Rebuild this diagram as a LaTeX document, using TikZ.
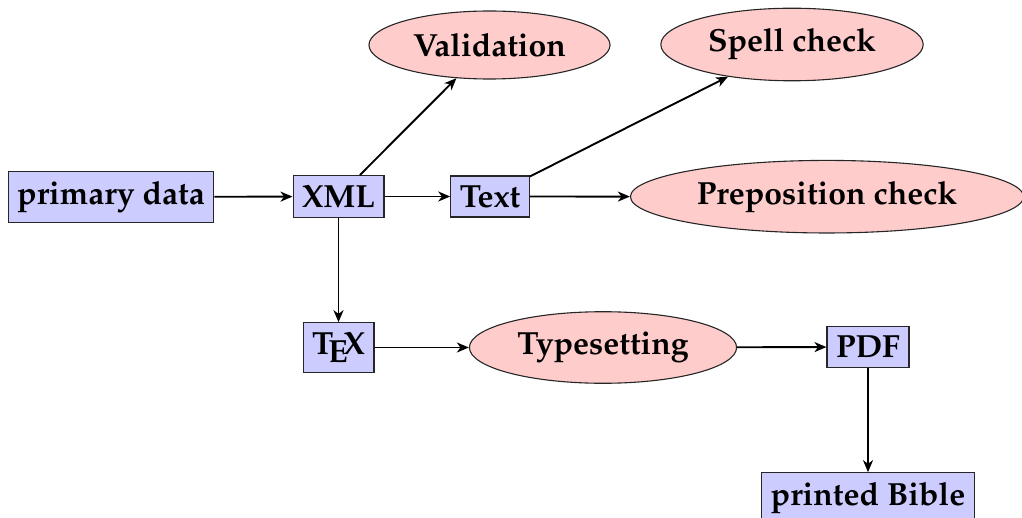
\documentclass[tikz,border=0pt]{standalone}
\usepackage[T1]{fontenc}
\usepackage{mathpazo}
\usetikzlibrary{arrows.meta,shapes.geometric}
\begin{document}
\begin{tikzpicture}[x=0.5pt,y=-0.5pt,
  every node/.style={font=\fontsize{16}{19}\selectfont\bfseries},
  databox/.style={rectangle,draw=black!85,fill=blue!20,line width=0.55pt,inner xsep=4.5pt,inner ysep=4.8pt},
  procell/.style={ellipse,draw=black!85,fill=red!20,line width=0.55pt,inner xsep=4.4pt,inner ysep=5pt,minimum height=34pt},
  flow/.style={-{Stealth[length=6pt,width=5pt,inset=1.8pt]},line width=0.95pt}]
\useasboundingbox (0,0) rectangle (1022,518);
\node[databox] (pd) at (111,197) {primary data};
\node[databox] (xml) at (338.5,196.5) {XML};
\node[databox] (txt) at (490,196.5) {Text};
\node[procell] (val) at (489.5,45) {Validation};
\node[procell] (spell) at (792,44.5) {Spell check};
\node[procell] (prep) at (827,196.7) {Preposition check};
\node[databox] (tex) at (338.5,347.5) {\TeX};
\node[procell] (type) at (603,347.5) {Typesetting};
\node[databox] (pdf) at (868,347) {PDF};
\node[databox] (bible) at (868,498) {printed Bible};
\draw[flow] (pd) -- (xml);
\draw[flow] (xml) -- (txt);
\draw[flow] (txt) -- (prep);
\draw[flow] (xml) -- (val);
\draw[flow] (txt) -- (spell);
\draw[flow] (xml) -- (tex);
\draw[flow] (tex) -- (type);
\draw[flow] (type) -- (pdf);
\draw[flow] (pdf) -- (bible);
\end{tikzpicture}
\end{document}
